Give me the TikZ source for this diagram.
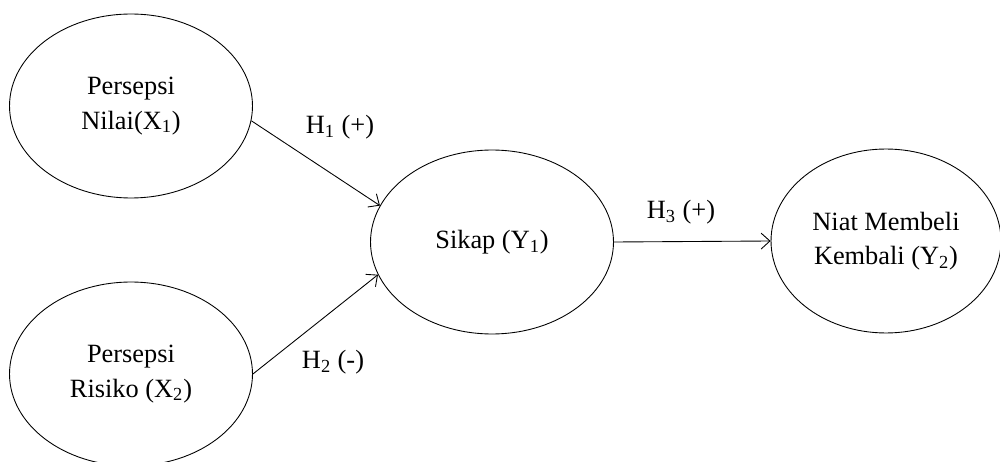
\documentclass[tikz,border=0pt]{standalone}
\usepackage{fontspec}
\setmainfont{Liberation Serif}
\usetikzlibrary{shapes.geometric,arrows.meta}
\tikzset{
  konstruk/.style={draw, ellipse, line width=0.5pt, inner sep=0pt,
    minimum width=4.86cm, minimum height=3.68cm, align=center,
    font=\fontsize{15}{19.5}\selectfont},
  panah/.style={line width=0.5pt, -{Straight Barb[length=5pt,width=9pt]}},
  hipotesis/.style={font=\fontsize{15}{18}\selectfont}
}
\begin{document}
\begin{tikzpicture}[x=0.02cm, y=-0.02cm]
    % frame
    \clip (0,0) rectangle (1000,462);

    % The constructs
    \node[konstruk] (nilai) at (131,106) {Persepsi\\Nilai(X\textsubscript{1})};
    \node[konstruk] (risiko) at (131,374) {Persepsi\\Risiko (X\textsubscript{2})};
    \node[konstruk] (sikap) at (492,242) {Sikap (Y\textsubscript{1})};
    \node[konstruk, minimum width=4.6cm] (niat) at (886,241) {Niat Membeli\\Kembali (Y\textsubscript{2})};

    % The paths
    \draw[panah] (nilai.-7) -- (sikap.162);
    \draw[panah] (risiko.0) -- (sikap.196);
    \draw[panah] (sikap.east) -- (niat.west);

    % Hypothesis labels
    \node[hipotesis] (h1) at (340,127) {H\textsubscript{1} (+)};
    \node[hipotesis] (h2) at (333,362) {H\textsubscript{2} (-)};
    \node[hipotesis] (h3) at (681,212) {H\textsubscript{3} (+)};
\end{tikzpicture}
\end{document}
